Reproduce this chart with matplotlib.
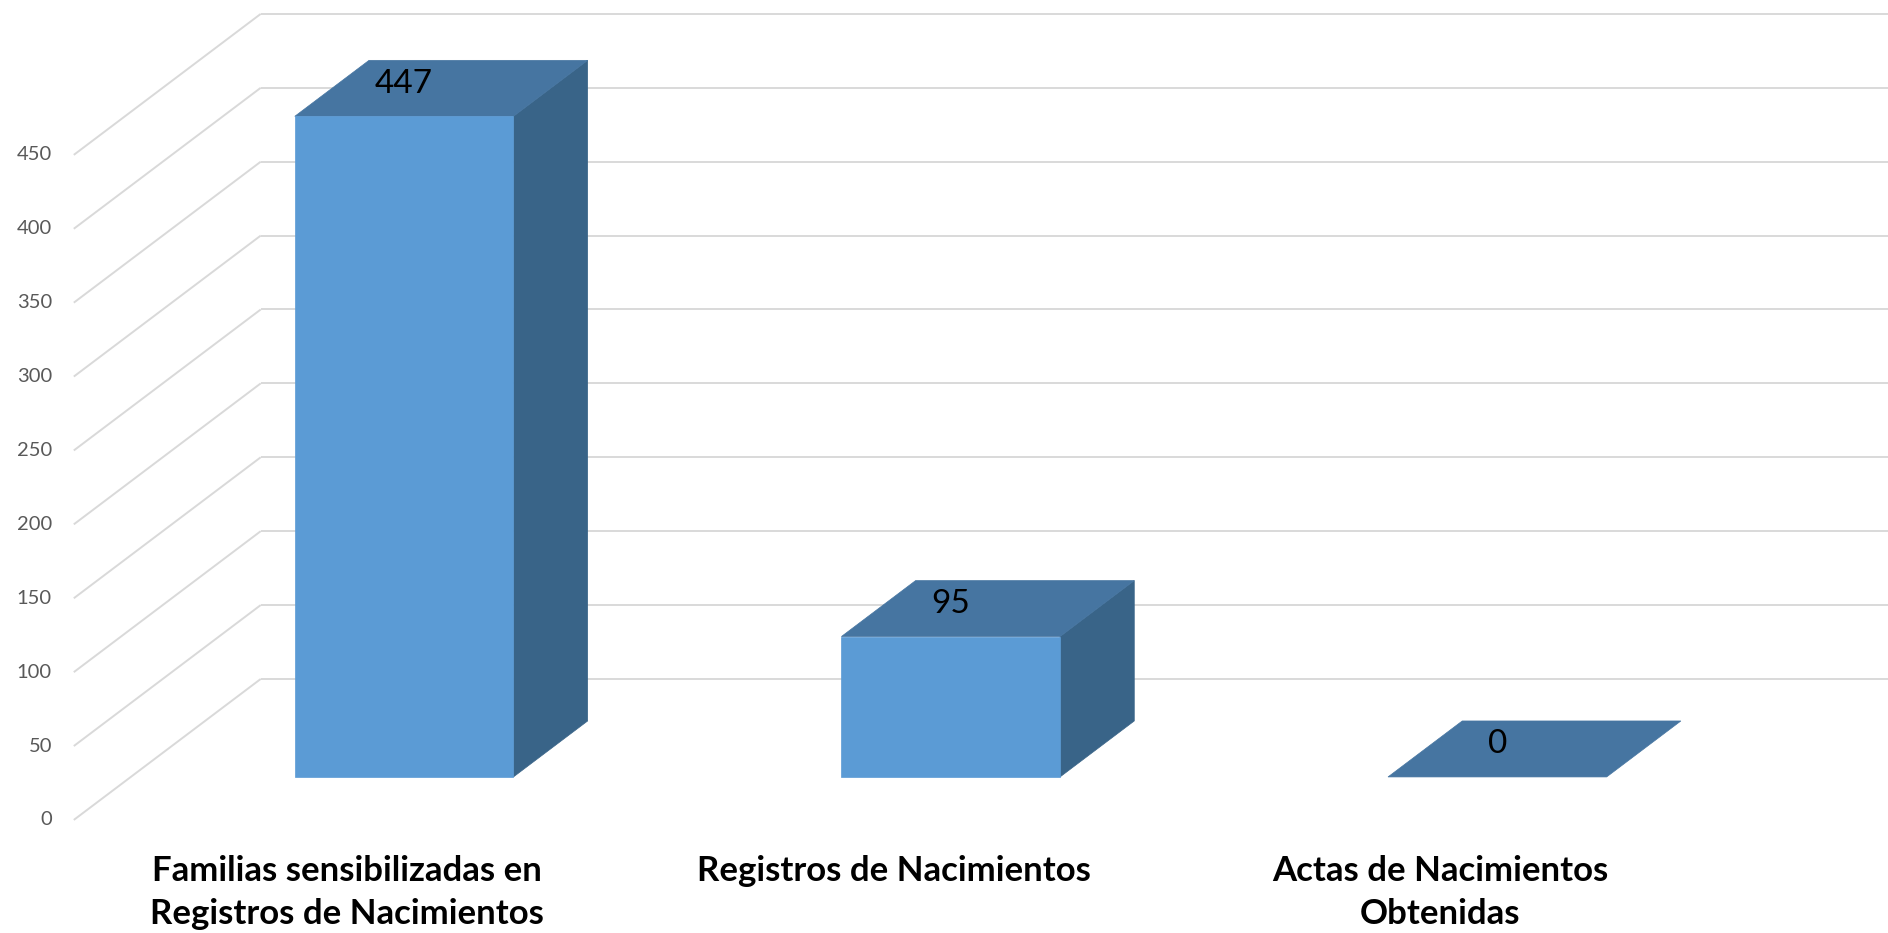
import matplotlib
matplotlib.use("Agg")
import matplotlib.pyplot as plt
from matplotlib.patches import Polygon

# data
categories = ["Familias sensibilizadas en\nRegistros de Nacimientos",
              "Registros de Nacimientos",
              "Actas de Nacimientos\nObtenidas"]
values = [447, 95, 0]
y_ticks = [0, 50, 100, 150, 200, 250, 300, 350, 400, 450]

# oblique 3D look: depth shift in data units (x: categories, y: values)
DX = 0.342
DY = 95.4
D_FRONT, D_BACK = 0.305, 0.702
BAR_W = 0.4

C_FRONT = "#5B9BD5"
C_TOP = "#4675A1"
C_SIDE = "#396488"
C_GRID = "#D9D9D9"

plt.rcParams["font.family"] = ["Lato", "DejaVu Sans"]

fig = plt.figure(figsize=(18.88, 9.33), dpi=100)
ax = fig.add_axes([0, 0, 1, 1])
ax.set_xlim(-0.135, 3.319)
ax.set_ylim(-76.5, 554.8)
ax.axis("off")


def proj(x, y, d):
    return (x + d * DX, y + d * DY)


# back wall gridlines + diagonal side-wall lines
xmax = ax.get_xlim()[1]
for v in y_ticks:
    ax.plot([0, DX], [v, v + DY], color=C_GRID, lw=1.4, zorder=1,
            solid_capstyle="butt")
    ax.plot([DX, xmax], [v + DY, v + DY], color=C_GRID, lw=1.4, zorder=1,
            solid_capstyle="butt")
    ax.text(-0.040, v, str(v), ha="right", va="center", fontsize=14.5,
            color="#595959")

for i, (cat, h) in enumerate(zip(categories, values)):
    c = i + 0.5
    x0, x1 = c - BAR_W / 2, c + BAR_W / 2
    front = [proj(x0, 0, D_FRONT), proj(x1, 0, D_FRONT),
             proj(x1, h, D_FRONT), proj(x0, h, D_FRONT)]
    side = [proj(x1, 0, D_FRONT), proj(x1, 0, D_BACK),
            proj(x1, h, D_BACK), proj(x1, h, D_FRONT)]
    top = [proj(x0, h, D_FRONT), proj(x1, h, D_FRONT),
           proj(x1, h, D_BACK), proj(x0, h, D_BACK)]
    if h > 0:
        ax.add_patch(Polygon(side, closed=True, facecolor=C_SIDE,
                             edgecolor=C_SIDE, lw=0.5, zorder=3))
        ax.add_patch(Polygon(front, closed=True, facecolor=C_FRONT,
                             edgecolor=C_FRONT, lw=0.5, zorder=4))
    ax.add_patch(Polygon(top, closed=True, facecolor=C_TOP,
                         edgecolor=C_TOP, lw=0.5, zorder=3))
    lx, ly = proj(c, h, D_FRONT)
    ax.text(lx, ly + 22, str(h), ha="center", va="center", fontsize=24,
            color="black", zorder=5)
    ax.text(c, -24, cat, ha="center", va="top", fontsize=25,
            fontweight="bold", color="black", linespacing=1.42)

fig.savefig("out.png", dpi=100)
